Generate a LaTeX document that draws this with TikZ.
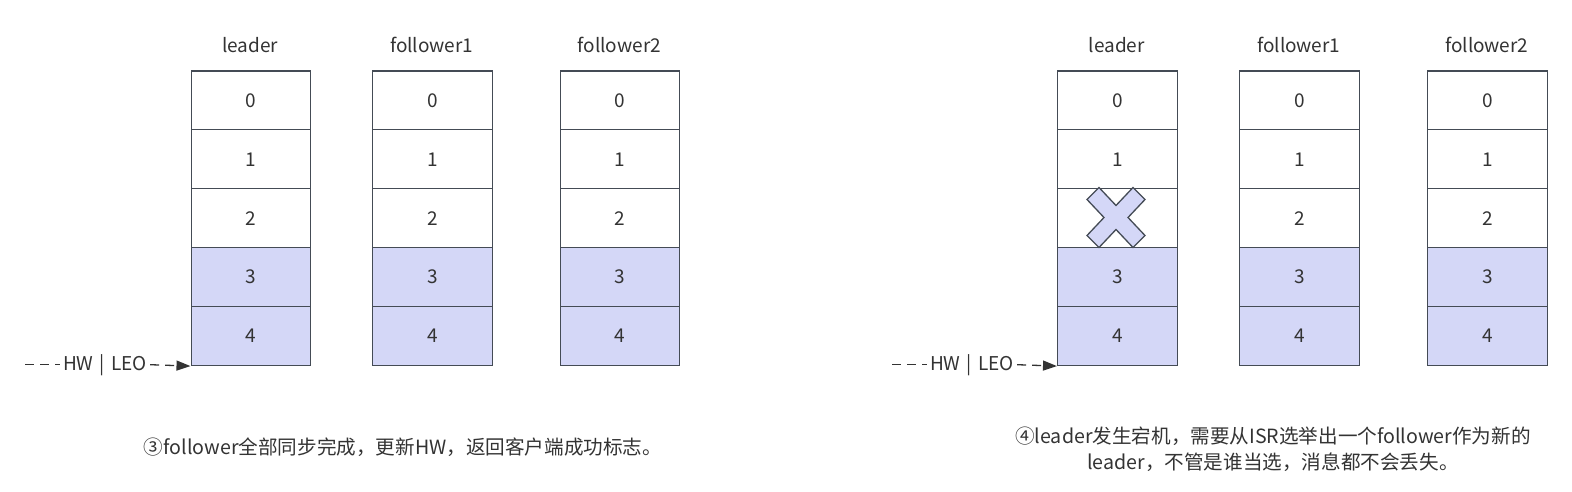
\documentclass[tikz,border=0pt]{standalone}
\usepackage{fontspec}
\setmainfont{Noto Sans CJK SC}
\usetikzlibrary{arrows.meta}
\definecolor{ink}{HTML}{333333}
\definecolor{edge}{HTML}{444B55}
\definecolor{lav}{HTML}{D4D7F7}
\tikzset{
  cell/.style={draw=edge, line width=1.4pt, minimum width=119.5pt, minimum height=58.9pt, inner sep=0pt, font=\fontsize{19}{21}\selectfont, text=ink, anchor=north west},
  hl/.style={fill=lav},
  head/.style={font=\fontsize{19}{21}\selectfont, text=ink},
  captxt/.style={font=\fontsize{19.6}{26}\selectfont, text=ink, align=center},
  ptr/.style={draw=ink, line width=1.3pt, dash pattern=on 9pt off 6pt},
  crossx/.style={draw=edge, fill=lav, line width=1.3pt, line join=miter}
}
\begin{document}
\begin{tikzpicture}[x=1pt,y=-1pt]
\useasboundingbox (0,0) rectangle (1572,492);
% columns
\foreach \name/\x/\lab in {a/190.5/leader, b/372/follower1, c/559.5/follower2, d/1057/leader, e/1239/follower1, f/1427/follower2}{
  \node[head] (\name h) at (\x+59.75,45) {\lab};
  \foreach \i in {0,1,2}{
    \node[cell] (\name\i) at (\x,70.2+\i*58.9) {\i};
  }
  \foreach \i in {3,4}{
    \node[cell,hl] (\name\i) at (\x,70.2+\i*58.9) {\i};
  }
}
% pointers
\coordinate (ls) at (25,364.7);
\node[head, inner sep=3pt] (lt) at (105,364.7) {HW\,\,|\,\,LEO};
\draw[ptr] (ls) -- (lt.west);
\draw[ptr, -{Triangle[length=14pt,width=10pt]}] (lt.east) -- (a4.south west);
\coordinate (rs) at (892,364.7);
\node[head, inner sep=3pt] (rt) at (972,364.7) {HW\,\,|\,\,LEO};
\draw[ptr] (rs) -- (rt.west);
\draw[ptr, -{Triangle[length=14pt,width=10pt]}] (rt.east) -- (d4.south west);
% cross
\begin{scope}[shift={(1116,217.5)}]
\draw[crossx] (-17,-30) -- (0,-12) -- (17,-30) -- (29,-18) -- (12,0) -- (29,18) -- (17,30) -- (0,12) -- (-17,30) -- (-29,18) -- (-12,0) -- (-29,-18) -- cycle;
\end{scope}
% captions
\node[captxt] (capl) at (403,447) {③follower全部同步完成，更新HW，返回客户端成功标志。};
\node[captxt] (capr) at (1273,449) {④leader发生宕机，需要从ISR选举出一个follower作为新的\\leader，不管是谁当选，消息都不会丢失。};
\end{tikzpicture}
\end{document}
